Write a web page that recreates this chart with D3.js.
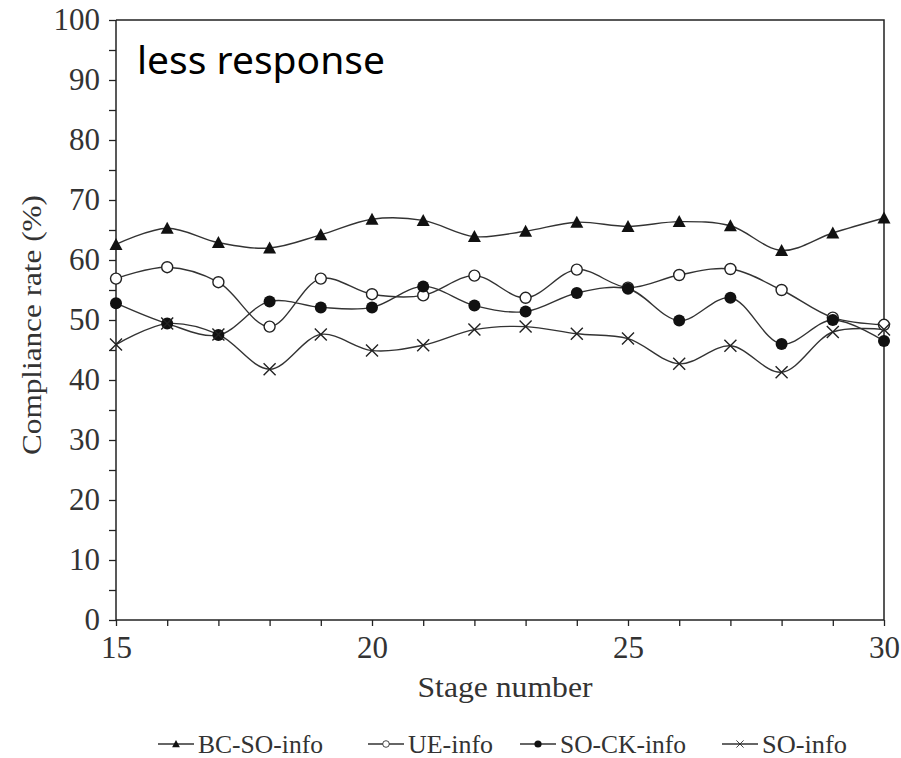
<!DOCTYPE html>
<html>
<head>
<meta charset="utf-8">
<script src="https://cdn.jsdelivr.net/npm/d3@7"></script>
<style>
  body { margin: 0; background: #fff; }
</style>
</head>
<body>
<svg id="chart" width="901" height="758"></svg>
<script>
// Data
const stages = [15, 16, 17, 18, 19, 20, 21, 22, 23, 24, 25, 26, 27, 28, 29, 30];
const bcSoInfo = [62.6, 65.3, 62.9, 62.0, 64.2, 66.8, 66.6, 63.9, 64.8, 66.3, 65.6, 66.4, 65.7, 61.6, 64.5, 67.0];
const ueInfo   = [56.9, 58.8, 56.3, 48.9, 56.9, 54.3, 54.1, 57.4, 53.7, 58.4, 55.4, 57.5, 58.5, 55.0, 50.4, 49.2];
const soCkInfo = [52.8, 49.4, 47.5, 53.1, 52.1, 52.1, 55.6, 52.4, 51.4, 54.5, 55.2, 49.9, 53.7, 46.0, 50.0, 46.5];
const soInfo   = [45.9, 49.4, 47.6, 41.8, 47.6, 44.9, 45.8, 48.4, 48.9, 47.7, 46.9, 42.7, 45.7, 41.3, 48.0, 48.4];
const seriesNames = ["BC-SO-info", "UE-info", "SO-CK-info", "SO-info"];
const yTicks = [0, 10, 20, 30, 40, 50, 60, 70, 80, 90, 100];
const xTicks = [15, 20, 25, 30];

const serif = "'Liberation Serif', 'Times New Roman', 'DejaVu Serif', serif";

const series = [
  { name: seriesNames[0], values: bcSoInfo, marker: "triangle" },
  { name: seriesNames[1], values: ueInfo, marker: "open" },
  { name: seriesNames[2], values: soCkInfo, marker: "filled" },
  { name: seriesNames[3], values: soInfo, marker: "cross" }
];

const svg = d3.select("#chart");
const margin = { top: 20, right: 17, bottom: 138, left: 116 };
const width = +svg.attr("width") - margin.left - margin.right;
const height = +svg.attr("height") - margin.top - margin.bottom;
const g = svg.append("g").attr("transform", `translate(${margin.left},${margin.top})`);

const xScale = d3.scaleLinear().domain([15, 30]).range([0, width]);
const yScale = d3.scaleLinear().domain([0, 100]).range([height, 0]);

// Y axis: majors every 10, minors every 5, outward
const yAxis = g.append("g")
    .call(d3.axisLeft(yScale).tickValues(d3.range(0, 101, 5))
      .tickSize(7).tickPadding(9)
      .tickFormat(d => yTicks.includes(d) ? d : ""));
yAxis.attr("font-family", null);
yAxis.selectAll("text").style("font-family", serif).style("font-size", "31px").attr("fill", "#333");
yAxis.selectAll("line").attr("stroke", "#222").attr("stroke-width", 1.3);
yAxis.select(".domain").attr("stroke", "#222").attr("stroke-width", 1.5).attr("d", `M0,0V${height}`);

// X axis: majors every 5, minors every 1, outward
const xAxis = g.append("g")
    .attr("transform", `translate(0,${height})`)
    .call(d3.axisBottom(xScale).tickValues(d3.range(15, 31, 1))
      .tickSize(6).tickPadding(10)
      .tickFormat(d => xTicks.includes(d) ? d : ""));
xAxis.attr("font-family", null);
xAxis.selectAll("text").style("font-family", serif).style("font-size", "31px").attr("fill", "#333");
xAxis.selectAll("line").attr("stroke", "#222").attr("stroke-width", 1.3);
xAxis.select(".domain").attr("stroke", "#222").attr("stroke-width", 1.5).attr("d", `M0,0H${width}`);

// Top and right frame
g.append("path")
    .attr("d", `M0,0H${width}V${height}`)
    .attr("fill", "none")
    .attr("stroke", "#222")
    .attr("stroke-width", 1.5);

// Axis titles
svg.append("text")
    .attr("transform", "translate(41,325) rotate(-90)")
    .attr("text-anchor", "middle")
    .attr("textLength", 260)
    .attr("lengthAdjust", "spacingAndGlyphs")
    .style("font-family", serif)
    .style("font-size", "28px")
    .attr("fill", "#333")
    .text("Compliance rate (%)");

svg.append("text")
    .attr("x", 505)
    .attr("y", 697)
    .attr("text-anchor", "middle")
    .attr("textLength", 175)
    .attr("lengthAdjust", "spacingAndGlyphs")
    .style("font-family", serif)
    .style("font-size", "29px")
    .attr("fill", "#333")
    .text("Stage number");

// Annotation
svg.append("text")
    .attr("x", 137)
    .attr("y", 74)
    .style("font-family", "'Noto Sans', 'Open Sans', sans-serif")
    .style("font-size", "39px")
    .attr("fill", "#000")
    .text("less response");

// Lines
const line = d3.line()
    .x((d, i) => xScale(stages[i]))
    .y(d => yScale(d))
    .curve(d3.curveCatmullRom.alpha(0.5));

g.selectAll(".line")
  .data(series)
  .enter().append("path")
    .attr("class", "line")
    .attr("d", d => line(d.values))
    .attr("fill", "none")
    .attr("stroke", "#333")
    .attr("stroke-width", 1.4);

// Marker drawing
function drawMarker(sel, type) {
  if (type === "triangle") {
    sel.append("path").attr("d", "M0,-6.5L6.5,5.5H-6.5Z").attr("fill", "#111");
  } else if (type === "open") {
    sel.append("circle").attr("r", 5.5).attr("fill", "#fff").attr("stroke", "#222").attr("stroke-width", 1.4);
  } else if (type === "filled") {
    sel.append("circle").attr("r", 6).attr("fill", "#111");
  } else {
    sel.append("path").attr("d", "M-6,-6L6,6M-6,6L6,-6").attr("stroke", "#222").attr("stroke-width", 1.4);
  }
}

series.forEach(s => {
  g.selectAll(null)
    .data(s.values)
    .enter().append("g")
      .attr("transform", (d, i) => `translate(${xScale(stages[i])},${yScale(d)})`)
      .each(function () { drawMarker(d3.select(this), s.marker); });
});

// Legend
const legendX = [158, 368, 520, 722];
const legendW = [125, 85, 126, 85];
const legend = svg.append("g").attr("transform", "translate(0,744)");
series.forEach((s, i) => {
  const item = legend.append("g").attr("transform", `translate(${legendX[i]},0)`);
  item.append("line").attr("x1", 0).attr("x2", 36).attr("stroke", "#333").attr("stroke-width", 1.4);
  const m = item.append("g").attr("transform", "translate(18,0) scale(0.6)");
  drawMarker(m, s.marker);
  item.append("text")
    .attr("x", 40)
    .attr("y", 9)
    .attr("textLength", legendW[i])
    .attr("lengthAdjust", "spacingAndGlyphs")
    .style("font-family", serif)
    .style("font-size", "26px")
    .attr("fill", "#333")
    .text(s.name);
});
</script>
</body>
</html>
